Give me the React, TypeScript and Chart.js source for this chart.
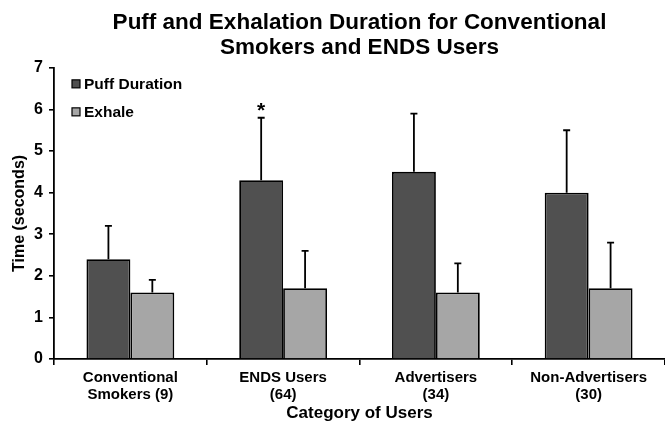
import React, { useEffect, useRef } from "react";
import { Chart, registerables } from "chart.js";

Chart.register(...registerables);

const categories: string[][] = [
  ["Conventional", "Smokers (9)"],
  ["ENDS Users", "(64)"],
  ["Advertisers", "(34)"],
  ["Non-Advertisers", "(30)"],
];
const puffValues = [2.4, 4.3, 4.5, 4.0];
const puffErrTop = [3.2, 5.8, 5.9, 5.5];
const exhaleValues = [1.6, 1.7, 1.6, 1.7];
const exhaleErrTop = [1.9, 2.6, 2.3, 2.8];
const seriesLabels = ["Puff Duration", "Exhale"];
const significant = [false, true, false, false];

const FONT = "'Liberation Sans', Arial, sans-serif";
const DARK = "#505050";
const LIGHT = "#a6a6a6";

const extrasPlugin = {
  id: "extras",
  afterDatasetsDraw(chart: any) {
    const ctx = chart.ctx;
    const y = chart.scales.y;
    const errs = [puffErrTop, exhaleErrTop];
    ctx.save();
    ctx.strokeStyle = "#000";
    ctx.lineWidth = 1.8;
    errs.forEach((arr, di) => {
      const meta = chart.getDatasetMeta(di);
      meta.data.forEach((bar: any, i: number) => {
        const yTop = y.getPixelForValue(arr[i]);
        const yBar = bar.y;
        ctx.beginPath();
        ctx.moveTo(bar.x, yBar);
        ctx.lineTo(bar.x, yTop);
        ctx.moveTo(bar.x - 3.5, yTop);
        ctx.lineTo(bar.x + 3.5, yTop);
        ctx.stroke();
        if (di === 0 && significant[i]) {
          ctx.fillStyle = "#000";
          ctx.font = `bold 21px ${FONT}`;
          ctx.textAlign = "center";
          ctx.textBaseline = "alphabetic";
          ctx.fillText("*", bar.x, yTop - 1);
        }
      });
    });
    // legend
    const colors = [DARK, LIGHT];
    const ca = chart.chartArea;
    ctx.font = `bold 15.5px ${FONT}`;
    ctx.textAlign = "left";
    ctx.textBaseline = "middle";
    seriesLabels.forEach((lab, i) => {
      const cy = ca.top + 16 + i * 28;
      const x0 = ca.left + 18;
      ctx.fillStyle = colors[i];
      ctx.fillRect(x0, cy - 4, 8, 8);
      ctx.lineWidth = 1.2;
      ctx.strokeStyle = "#000";
      ctx.strokeRect(x0, cy - 4, 8, 8);
      ctx.fillStyle = "#000";
      ctx.fillText(lab, x0 + 12, cy + 1);
    });
    ctx.restore();
  },
};

export default function App() {
  const ref = useRef<HTMLCanvasElement>(null);
  useEffect(() => {
    if (!ref.current) return;
    const chart = new Chart(ref.current, {
      type: "bar",
      data: {
        labels: categories,
        datasets: [
          {
            label: seriesLabels[0],
            data: puffValues,
            backgroundColor: DARK,
            borderColor: "#000",
            borderWidth: 1.8,
          },
          {
            label: seriesLabels[1],
            data: exhaleValues,
            backgroundColor: LIGHT,
            borderColor: "#000",
            borderWidth: 1.8,
          },
        ],
      },
      options: {
        animation: false,
        responsive: false,
        devicePixelRatio: 1,
        layout: { padding: { left: 0, right: 0, top: 0, bottom: 0 } },
        datasets: { bar: { categoryPercentage: 0.575, barPercentage: 1 } },
        plugins: {
          legend: { display: false },
          tooltip: { enabled: false },
          title: {
            display: true,
            fullSize: false,
            text: [
              "Puff and Exhalation Duration for Conventional",
              "Smokers and ENDS Users",
            ],
            color: "#000",
            font: { family: FONT, size: 22.5, weight: "bold", lineHeight: 1.13 },
            padding: { top: 10, bottom: 7 },
          },
        },
        scales: {
          x: {
            afterFit(scale: any) {
              scale.height = 65;
            },
            grid: {
              display: true,
              drawOnChartArea: false,
              offset: true,
              tickLength: 6,
              color: "#000",
              lineWidth: 1.6,
            },
            border: { display: true, color: "#000", width: 1.8 },
            ticks: {
              color: "#000",
              font: { family: FONT, size: 15, weight: "bold", lineHeight: 1.15 },
              padding: 4,
              maxRotation: 0,
              autoSkip: false,
            },
            title: {
              display: true,
              text: "Category of Users",
              color: "#000",
              font: { family: FONT, size: 17, weight: "bold" },
              padding: { top: 0, bottom: 0 },
            },
          },
          y: {
            min: 0,
            max: 7,
            afterFit(scale: any) {
              scale.width = 54;
            },
            ticks: {
              stepSize: 1,
              color: "#000",
              font: { family: FONT, size: 16, weight: "bold" },
              padding: 6,
            },
            grid: {
              display: true,
              drawOnChartArea: false,
              tickLength: 5,
              color: "#000",
              lineWidth: 1.6,
            },
            border: { display: true, color: "#000", width: 1.8 },
            title: {
              display: true,
              text: "Time (seconds)",
              color: "#000",
              font: { family: FONT, size: 16, weight: "bold" },
              padding: { top: 10, bottom: 0 },
            },
          },
        },
      },
      plugins: [extrasPlugin],
    });
    return () => chart.destroy();
  }, []);
  return (
    <div style={{ position: "fixed", left: 0, top: 0, width: 665, height: 424, background: "#fff" }}>
      <canvas ref={ref} width={665} height={424} style={{ width: 665, height: 424, display: "block" }} />
    </div>
  );
}
